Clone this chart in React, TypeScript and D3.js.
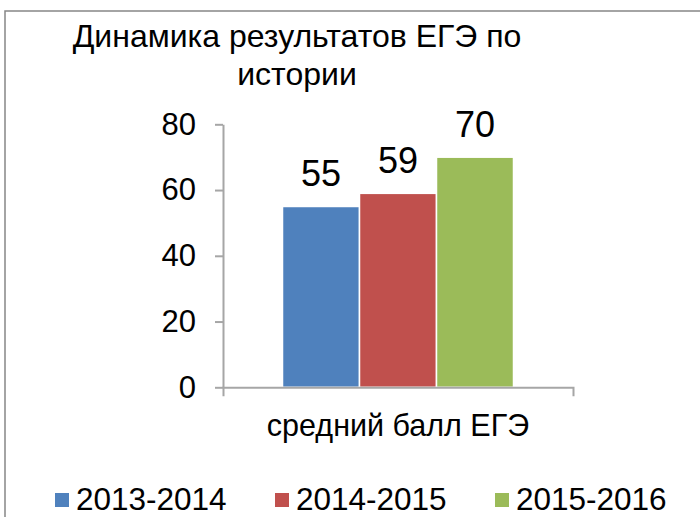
import React, { useEffect, useRef } from "react";
import * as d3 from "d3";

const titleLines = ["Динамика результатов ЕГЭ по", "истории"];
const categories = ["средний балл ЕГЭ"];
const seriesNames = ["2013-2014", "2014-2015", "2015-2016"];
const seriesValues = [55, 59, 70];
const seriesColors = ["#4F81BD", "#C0504D", "#9BBB59"];
const yTicks = [0, 20, 40, 60, 80];

const FONT = "'Liberation Sans', Arial, sans-serif";

const App = () => {
  const ref = useRef<SVGSVGElement>(null);

  useEffect(() => {
    const svg = d3.select(ref.current);
    svg.selectAll("*").remove();

    // outer frame (runs off the right/bottom edge like the original)
    svg
      .append("rect")
      .attr("x", 5)
      .attr("y", 11)
      .attr("width", 720)
      .attr("height", 540)
      .attr("fill", "white")
      .attr("stroke", "#868686")
      .attr("stroke-width", 1.5);

    const left = 223;
    const right = 573;
    const bottom = 387.3;
    const top = 124.3;

    const y = d3.scaleLinear().domain([0, 80]).range([bottom, top]);
    const x = d3
      .scaleBand()
      .domain(categories)
      .range([left, right])
      .paddingInner(0)
      .paddingOuter(0.2576);
    const xs = d3
      .scaleBand()
      .domain(seriesNames)
      .range([0, x.bandwidth()])
      .padding(0);

    // title
    svg
      .append("g")
      .selectAll("text")
      .data(titleLines)
      .enter()
      .append("text")
      .attr("x", 297)
      .attr("y", (d, i) => 47 + i * 38)
      .attr("text-anchor", "middle")
      .attr("font-family", FONT)
      .attr("font-size", 32)
      .attr("fill", "#000")
      .text((d) => d);

    // bars
    const rows = seriesNames.map((s, i) => ({ cat: categories[0], name: s, value: seriesValues[i], color: seriesColors[i] }));

    const g = svg.append("g");
    g.selectAll(".bar")
      .data(rows)
      .enter()
      .append("rect")
      .attr("x", (d) => (x(d.cat) || 0) + (xs(d.name) || 0))
      .attr("y", (d) => y(d.value))
      .attr("width", xs.bandwidth())
      .attr("height", (d) => bottom - y(d.value))
      .attr("fill", (d) => d.color)
      .attr("stroke", "white")
      .attr("stroke-width", 1.5);

    g.selectAll(".lbl")
      .data(rows)
      .enter()
      .append("text")
      .attr("x", (d) => (x(d.cat) || 0) + (xs(d.name) || 0) + xs.bandwidth() / 2)
      .attr("y", (d) => y(d.value) - 20)
      .attr("text-anchor", "middle")
      .attr("font-family", FONT)
      .attr("font-size", 36)
      .text((d) => d.value);

    // y axis
    const ya = svg
      .append("g")
      .attr("transform", `translate(${left},0)`)
      .call(d3.axisLeft(y).tickValues(yTicks).tickSizeInner(8).tickSizeOuter(0).tickPadding(19));
    ya.select(".domain").attr("stroke", "#A6A6A6").attr("stroke-width", 2);
    ya.selectAll(".tick line").attr("stroke", "#A6A6A6").attr("stroke-width", 2);
    ya.selectAll(".tick text").attr("font-family", FONT).attr("font-size", 31).attr("fill", "#000");

    // x axis
    const xa = svg
      .append("g")
      .attr("transform", `translate(0,${bottom})`)
      .call(d3.axisBottom(x).tickSizeInner(0).tickSizeOuter(9).tickPadding(20));
    xa.select(".domain").attr("stroke", "#A6A6A6").attr("stroke-width", 2);
    xa.selectAll(".tick text")
      .attr("font-family", FONT)
      .attr("font-size", 30.5)
      .attr("fill", "#000")
      .attr("dy", null)
      .attr("y", 48.5);

    // legend
    const lg = svg
      .append("g")
      .selectAll("g")
      .data(rows)
      .enter()
      .append("g")
      .attr("transform", (d, i) => `translate(${55 + i * 220},0)`);
    lg.append("rect")
      .attr("x", 0)
      .attr("y", 493)
      .attr("width", 14)
      .attr("height", 14)
      .attr("fill", (d) => d.color);
    lg.append("text")
      .attr("x", 21)
      .attr("y", 510)
      .attr("font-family", FONT)
      .attr("font-size", 31.5)
      .text((d) => d.name);
  }, []);

  return (
    <svg
      ref={ref}
      width={700}
      height={517}
      style={{ position: "absolute", left: 0, top: 0, background: "white" }}
    ></svg>
  );
};

export default App;
